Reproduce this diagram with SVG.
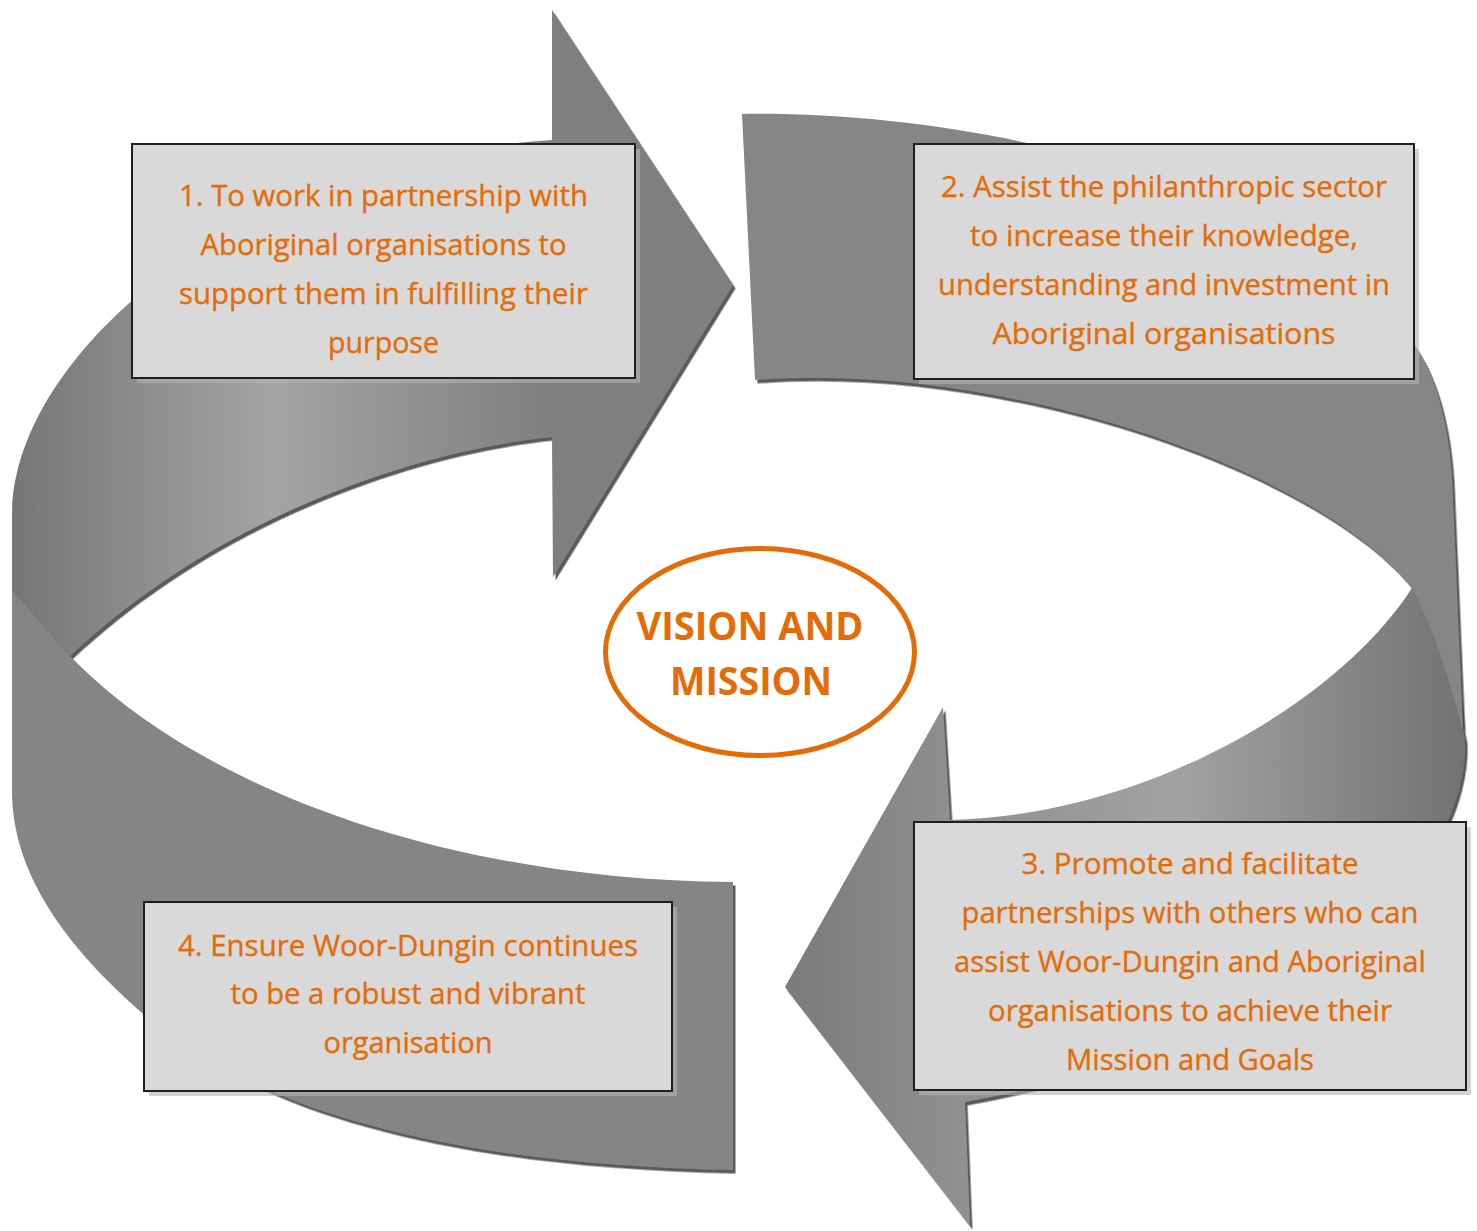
<svg xmlns="http://www.w3.org/2000/svg" width="1477" height="1231" viewBox="0 0 1477 1231">
  <defs>
    <filter id="drop" x="-5%" y="-5%" width="110%" height="110%">
      <feDropShadow dx="2.5" dy="3.5" stdDeviation="0.6" flood-color="#3c3c3c" flood-opacity="0.85"/>
    </filter>
    <!-- shading along the upper-left band -->
    <linearGradient id="gradUpperLeft" gradientUnits="userSpaceOnUse" x1="12" y1="0" x2="733" y2="0">
      <stop offset="0" stop-color="#767676"/>
      <stop offset="0.36" stop-color="#a4a4a4"/>
      <stop offset="0.75" stop-color="#7f7f7f"/>
      <stop offset="1" stop-color="#7f7f7f"/>
    </linearGradient>
    <!-- shading along the lower-right band and its head -->
    <linearGradient id="gradLowerRight" gradientUnits="userSpaceOnUse" x1="785" y1="0" x2="1466" y2="0">
      <stop offset="0" stop-color="#7a7a7a"/>
      <stop offset="0.24" stop-color="#8f8f8f"/>
      <stop offset="0.58" stop-color="#a2a2a2"/>
      <stop offset="1" stop-color="#727272"/>
    </linearGradient>
  </defs>
  <style>
    .box { fill: #d9d9d9; stroke: #1e1e1e; stroke-width: 2; }
    .boxShadow { fill: #b4b4b4; opacity: 0.6; }
    .label { font-family: "Open Sans", "Noto Sans", "Liberation Sans", sans-serif; font-size: 29px; fill: #e36c09; stroke: #e36c09; stroke-width: 0.35; text-anchor: middle; }
    .title { font-family: "Open Sans", "Noto Sans", "Liberation Sans", sans-serif; font-size: 39px; font-weight: bold; fill: #e36c09; text-anchor: middle; }
    .band { filter: url(#drop); }
  </style>
  <rect width="1477" height="1231" fill="#ffffff"/>

  <!-- circular arrows -->
  <g id="connectors">
    <!-- right arrow: lower part with head (pointing left) -->
    <path class="band" fill="url(#gradLowerRight)" d="M 943,707 L 785,987 L 970,1226 L 965,1102 C 1200,1060 1380,960 1447,823 C 1462,790 1466,760 1465,740 L 1463,730 L 1450,610 L 1412,588 C 1340,700 1150,815 950,820 Z"/>
    <!-- right arrow: upper part (tail at top) -->
    <path class="band" fill="#868686" d="M 742,114 C 1000,110 1330,200 1413,343 C 1440,380 1452,440 1453,500 L 1463,730 C 1450,680 1430,620 1412,588 C 1320,470 1000,360 755,380 Z"/>
    <!-- left arrow: upper part with head (pointing right) -->
    <path class="band" fill="url(#gradUpperLeft)" d="M 552,10 L 733,285 L 553,577 L 552,437 C 420,450 220,515 70,656 L 12,640 L 12,515 C 12,360 230,160 552,140 Z"/>
    <!-- left arrow: lower part (tail at bottom) -->
    <path class="band" fill="#858585" d="M 12,590 L 70,656 C 200,790 450,880 733,882 L 733,1170 C 450,1165 250,1110 143,1012 C 60,940 12,870 12,790 Z"/>
  </g>

  <!-- goal 1 -->
  <g id="node-goal1">
    <rect class="boxShadow" x="137" y="149" width="503" height="234"/>
    <rect class="box" x="132" y="144" width="503" height="234"/>
    <text class="label" x="383.5" y="205.5" textLength="409" lengthAdjust="spacingAndGlyphs">1. To work in partnership with</text>
    <text class="label" x="383.5" y="254.5" textLength="366" lengthAdjust="spacingAndGlyphs">Aboriginal organisations to</text>
    <text class="label" x="383.5" y="303.5" textLength="409" lengthAdjust="spacingAndGlyphs">support them in fulfilling their</text>
    <text class="label" x="383.5" y="352.5" textLength="111" lengthAdjust="spacingAndGlyphs">purpose</text>
  </g>

  <!-- goal 2 -->
  <g id="node-goal2">
    <rect class="boxShadow" x="919" y="149" width="500" height="235"/>
    <rect class="box" x="914" y="144" width="500" height="235"/>
    <text class="label" x="1164" y="197" textLength="446" lengthAdjust="spacingAndGlyphs">2. Assist the philanthropic sector</text>
    <text class="label" x="1164" y="246" textLength="388" lengthAdjust="spacingAndGlyphs">to increase their knowledge,</text>
    <text class="label" x="1164" y="295" textLength="452" lengthAdjust="spacingAndGlyphs">understanding and investment in</text>
    <text class="label" x="1164" y="344" textLength="343" lengthAdjust="spacingAndGlyphs">Aboriginal organisations</text>
  </g>

  <!-- goal 3 -->
  <g id="node-goal3">
    <rect class="boxShadow" x="919" y="827" width="552" height="268"/>
    <rect class="box" x="914" y="822" width="552" height="268"/>
    <text class="label" x="1190" y="874" textLength="337" lengthAdjust="spacingAndGlyphs">3. Promote and facilitate</text>
    <text class="label" x="1190" y="923" textLength="457" lengthAdjust="spacingAndGlyphs">partnerships with others who can</text>
    <text class="label" x="1190" y="972" textLength="472" lengthAdjust="spacingAndGlyphs">assist Woor-Dungin and Aboriginal</text>
    <text class="label" x="1190" y="1021" textLength="404" lengthAdjust="spacingAndGlyphs">organisations to achieve their</text>
    <text class="label" x="1190" y="1070" textLength="248" lengthAdjust="spacingAndGlyphs">Mission and Goals</text>
  </g>

  <!-- goal 4 -->
  <g id="node-goal4">
    <rect class="boxShadow" x="149" y="907" width="528" height="189"/>
    <rect class="box" x="144" y="902" width="528" height="189"/>
    <text class="label" x="408" y="955.5" textLength="460" lengthAdjust="spacingAndGlyphs">4. Ensure Woor-Dungin continues</text>
    <text class="label" x="408" y="1004" textLength="355" lengthAdjust="spacingAndGlyphs">to be a robust and vibrant</text>
    <text class="label" x="408" y="1052.5" textLength="169" lengthAdjust="spacingAndGlyphs">organisation</text>
  </g>

  <!-- centre -->
  <g id="node-vision">
    <ellipse cx="760" cy="652" rx="154.5" ry="103.5" fill="#ffffff" stroke="#e36c09" stroke-width="5"/>
    <text class="title" x="750" y="640" textLength="227" lengthAdjust="spacingAndGlyphs">VISION AND</text>
    <text class="title" x="751" y="695" textLength="162" lengthAdjust="spacingAndGlyphs">MISSION</text>
  </g>
</svg>
